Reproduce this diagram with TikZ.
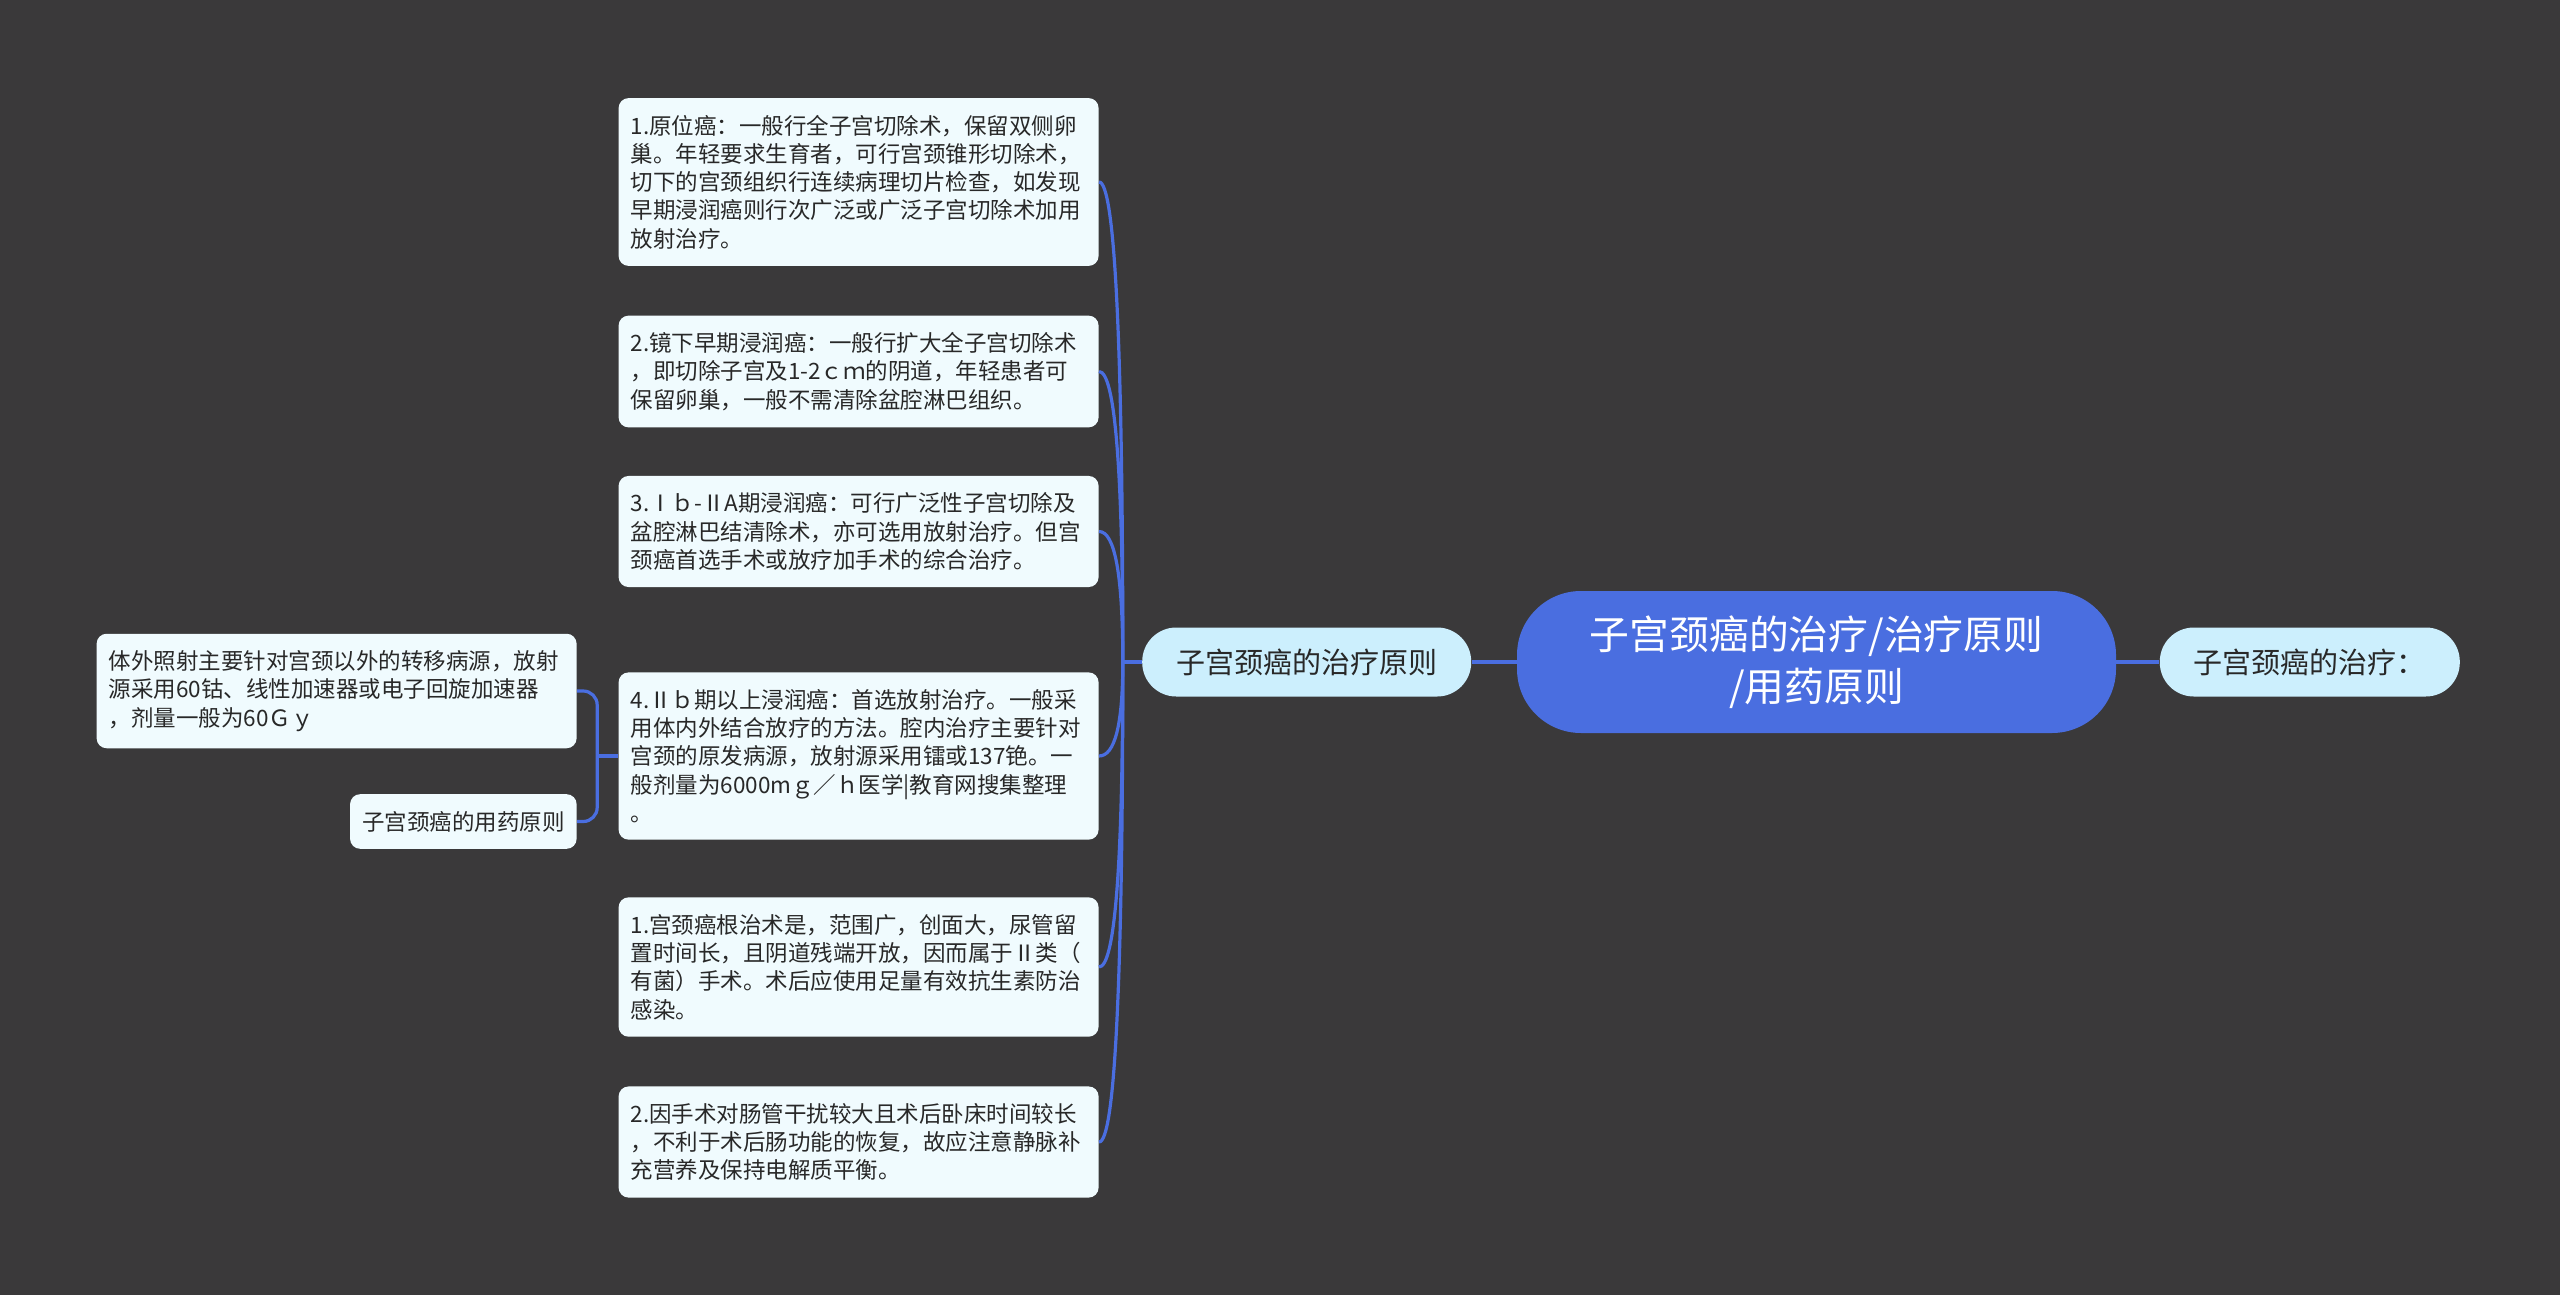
\documentclass[tikz,border=0pt]{standalone}
\usepackage{fontspec}
\setmainfont{Noto Sans CJK SC}
\usetikzlibrary{positioning,calc}
\definecolor{bgcol}{RGB}{58,57,58}
\definecolor{linecol}{RGB}{74,110,224}
\definecolor{leafcol}{RGB}{240,251,254}
\definecolor{topiccol}{RGB}{204,239,253}
\definecolor{txtcol}{RGB}{40,40,40}

\begin{document}
\begin{tikzpicture}[x=0.5pt,y=-0.5pt,
    card/.style={fill=leafcol,text=txtcol,rounded corners=5pt,align=left,
                 inner xsep=6pt,inner ysep=8.4pt,
                 font=\fontsize{11.25}{14.15}\selectfont},
    leaf/.style={card,text width=228pt},
    topic/.style={fill=topiccol,text=txtcol,rounded corners=17pt,
                  minimum height=34.5pt,inner xsep=17pt,
                  font=\fontsize{14.5}{17}\selectfont},
    branch/.style={draw=linecol,line width=1.6pt}]

 \fill[bgcol] (0,0) rectangle (2560,1295);
 \useasboundingbox (0,0) rectangle (2560,1295);

 % centre and first level
 \node[fill=linecol,text=white,rounded corners=32pt,minimum width=299.5pt,
       minimum height=71pt,align=center,font=\fontsize{19.9}{26}\selectfont]
       (root) at (1816.5,662) {子宫颈癌的治疗/治疗原则\\/用药原则};
 \node[topic] (prin) [left=22.5pt of root]  {子宫颈癌的治疗原则};
 \node[topic] (cure) [right=21.5pt of root] {子宫颈癌的治疗：};

 % leaves of the principle
 \node[leaf,anchor=east] (b1) at (1099,182)
   {1.原位癌：一般行全子宫切除术，保留双侧卵\\巢。年轻要求生育者，可行宫颈锥形切除术，\\切下的宫颈组织行连续病理切片检查，如发现\\早期浸润癌则行次广泛或广泛子宫切除术加用\\放射治疗。};
 \node[leaf,anchor=east] (b2) at (1099,371.5)
   {2.镜下早期浸润癌：一般行扩大全子宫切除术\\，即切除子宫及1-2ｃｍ的阴道，年轻患者可\\保留卵巢，一般不需清除盆腔淋巴组织。};
 \node[leaf,anchor=east] (b3) at (1099,531.5)
   {3.Ⅰｂ-ⅡA期浸润癌：可行广泛性子宫切除及\\盆腔淋巴结清除术，亦可选用放射治疗。但宫\\颈癌首选手术或放疗加手术的综合治疗。};
 \node[leaf,anchor=east] (b4) at (1099,756)
   {4.Ⅱｂ期以上浸润癌：首选放射治疗。一般采\\用体内外结合放疗的方法。腔内治疗主要针对\\宫颈的原发病源，放射源采用镭或137铯。一\\般剂量为6000mｇ／ｈ医学|教育网搜集整理\\。};
 \node[leaf,anchor=east] (b5) at (1099,967)
   {1.宫颈癌根治术是，范围广，创面大，尿管留\\置时间长，且阴道残端开放，因而属于Ⅱ类（\\有菌）手术。术后应使用足量有效抗生素防治\\感染。};
 \node[leaf,anchor=east] (b6) at (1099,1142)
   {2.因手术对肠管干扰较大且术后卧床时间较长\\，不利于术后肠功能的恢复，故应注意静脉补\\充营养及保持电解质平衡。};

 % second level on the left
 \node[leaf,anchor=east] (ext) at (577,691)
   {体外照射主要针对宫颈以外的转移病源，放射\\源采用60钴、线性加速器或电子回旋加速器\\，剂量一般为60Ｇｙ};
 \node[card,anchor=east] (drug) at (577,821.5) {子宫颈癌的用药原则};

 \draw[branch] (prin) -- (root) (root) -- (cure);
 \coordinate (trunk) at ($(prin.west)+(-19,0)$);
 \draw[branch] (prin.west) -- (trunk);
 \foreach \b in {b1,b2,b3,b4,b5,b6}
   \draw[branch] (trunk) .. controls ($(trunk)!2/3!(trunk|-\b.east)$)
                 and ($(\b.east)!2/3!(trunk|-\b.east)$) .. (\b.east);

 \coordinate (fork) at ($(b4.west)+(-21,0)$);
 \draw[branch] (b4.west) -- (fork);
 \draw[branch,rounded corners=7pt] (fork) |- (ext.east) (fork) |- (drug.east);

\end{tikzpicture}
\end{document}
